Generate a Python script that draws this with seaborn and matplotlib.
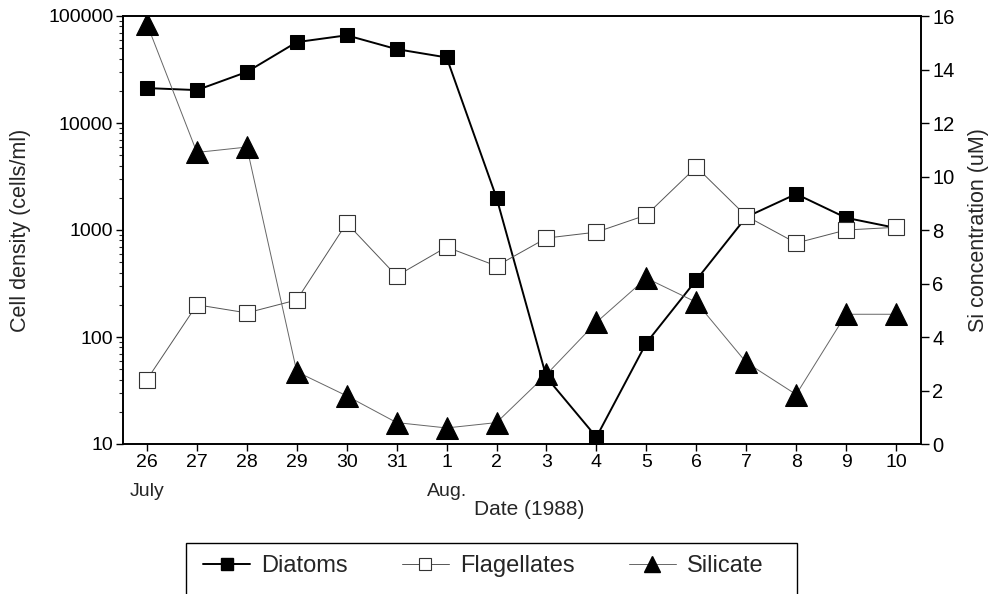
import matplotlib
matplotlib.use("Agg")
import matplotlib.pyplot as plt
import matplotlib.ticker as mticker
from matplotlib.lines import Line2D
from matplotlib.patches import Rectangle
import seaborn as sns
import pandas as pd
import numpy as np

sns.set_theme(style="ticks")
plt.rcParams['font.family'] = ['Liberation Sans', 'DejaVu Sans']

dates = ["26", "27", "28", "29", "30", "31", "1", "2", "3", "4", "5", "6", "7", "8", "9", "10"]
diatoms = [21200, 20300, 30000, 57000, 66000, 49000, 41000, 2000, 42, 11.6, 88, 341, 1320, 2170, 1300, 1045]
flagellates = [40, 200, 168, 222, 1160, 372, 693, 461, 841, 955, 1380, 3880, 1350, 755, 1000, 1060]
silicate = [15.7, 10.9, 11.1, 2.7, 1.8, 0.8, 0.6, 0.8, 2.6, 4.55, 6.2, 5.3, 3.05, 1.85, 4.85, 4.85]

df = pd.DataFrame({"idx": np.arange(len(dates)), "Diatoms": diatoms,
                   "Flagellates": flagellates, "Silicate": silicate})

fig = plt.figure(figsize=(9.92, 5.94), dpi=100)
ax = fig.add_axes([123/992, 1-444/594, (921-123)/992, (444-16)/594])
ax2 = ax.twinx()

sns.lineplot(data=df, x="idx", y="Diatoms", ax=ax, color="black", lw=1.4,
             marker="s", markersize=10.5, markeredgecolor="black", markerfacecolor="black")
sns.lineplot(data=df, x="idx", y="Flagellates", ax=ax, color="#555555", lw=0.7,
             marker="s", markersize=11, markeredgecolor="#333333", markerfacecolor="white",
             markeredgewidth=0.8)
sns.lineplot(data=df, x="idx", y="Silicate", ax=ax2, color="#666666", lw=0.7,
             marker="^", markersize=16, markeredgecolor="black", markerfacecolor="black")

ax.set_yscale("log")
ax.set_ylim(10, 100000)
ax.set_xlim(-0.48, 15.5)
ax2.set_ylim(0, 16)
ax2.set_yticks(range(0, 17, 2))

ax.yaxis.set_major_locator(mticker.LogLocator(base=10, numticks=10))
ax.yaxis.set_major_formatter(mticker.FuncFormatter(lambda v, p: f"{int(round(v))}"))
ax.yaxis.set_minor_locator(mticker.LogLocator(base=10, subs=np.arange(2, 10), numticks=20))
ax.yaxis.set_minor_formatter(mticker.NullFormatter())

ax.set_xticks(df["idx"])
ax.set_xticklabels(dates)

for a in (ax, ax2):
    for s in a.spines.values():
        s.set_visible(True)
        s.set_color("black")
        s.set_linewidth(1.2)
ax.tick_params(axis="both", which="major", labelsize=14, length=5, width=1, direction="out",
               colors="black", pad=2)
ax.tick_params(axis="y", which="minor", length=3, width=0.8)
ax2.tick_params(axis="y", labelsize=14.5, length=6, width=1, direction="out", colors="black", pad=2)

ax.set_ylabel("Cell density (cells/ml)", fontsize=15.5, labelpad=12)
ax2.set_ylabel("Si concentration (uM)", fontsize=15.5, labelpad=10)
ax.set_xlabel("")

ax.text(0, -0.09, "July", transform=ax.get_xaxis_transform(), ha="center", va="top", fontsize=14)
ax.text(6, -0.09, "Aug.", transform=ax.get_xaxis_transform(), ha="center", va="top", fontsize=14)
ax.text(7.65, -0.13, "Date (1988)", transform=ax.get_xaxis_transform(), ha="center", va="top", fontsize=15)

handles = [
    Line2D([], [], color="black", lw=1.4, marker="s", markersize=9, markerfacecolor="black"),
    Line2D([], [], color="#555555", lw=0.7, marker="s", markersize=9, markerfacecolor="white",
           markeredgecolor="#333333", markeredgewidth=0.8),
    Line2D([], [], color="#666666", lw=0.7, marker="^", markersize=12, markerfacecolor="black",
           markeredgecolor="black"),
]
leg = fig.legend(handles, ["Diatoms", "Flagellates", "Silicate"], ncol=3,
                 loc="center left", bbox_to_anchor=(203/992, 1-566/594),
                 frameon=False, fontsize=17,
                 handlelength=2.0, handletextpad=0.45, columnspacing=2.3,
                 borderpad=0, borderaxespad=0)
fig.patches.append(Rectangle((186/992, -0.05), (797-186)/992, 0.05 + (594-543)/594,
                             transform=fig.transFigure, fill=False, edgecolor="black",
                             linewidth=1.0))

fig.savefig("out.png", dpi=100)
